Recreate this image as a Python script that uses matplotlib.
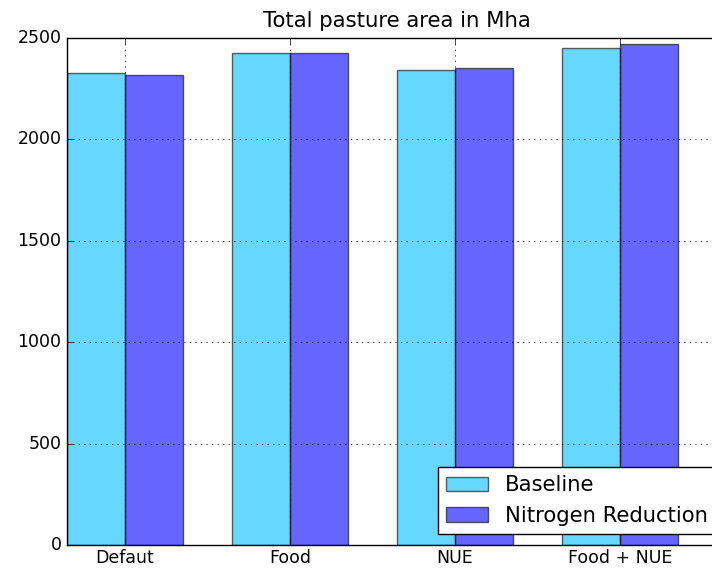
import numpy as np
import matplotlib
matplotlib.use('Agg')
import matplotlib.pyplot as plt

plt.style.use('classic')

# Data
scenarios = ['Defaut', 'Food', 'NUE', 'Food + NUE']
baseline = [2327, 2425, 2343, 2450]
nitrogen_reduction = [2317, 2426, 2352, 2471]

fig = plt.figure(figsize=(7.12, 5.68), dpi=100)
# axes runs a bit past the right edge, as in the reference crop
ax = fig.add_axes([67 / 712, 23 / 568, 660 / 712, 507 / 568])

index = np.arange(len(scenarios))
bar_width = 0.35

ax.bar(index, baseline, bar_width, align='edge',
       color='deepskyblue', alpha=0.6, label='Baseline')
ax.bar(index + bar_width, nitrogen_reduction, bar_width, align='edge',
       color='blue', alpha=0.6, label='Nitrogen Reduction')

ax.set_title('Total pasture area in Mha', fontsize=15.3, pad=8)
ax.set_xticks(index + bar_width)
ax.set_xticklabels(scenarios)
ax.set_xlim(0, 4)
ax.set_ylim(0, 2500)
ax.set_yticks(np.arange(0, 2501, 500))
ax.tick_params(labelsize=12.5)
ax.tick_params(axis='x', pad=3)
ax.grid(True)
ax.legend(loc='lower right', fontsize=15.2)

fig.savefig('out.png', dpi=100)
